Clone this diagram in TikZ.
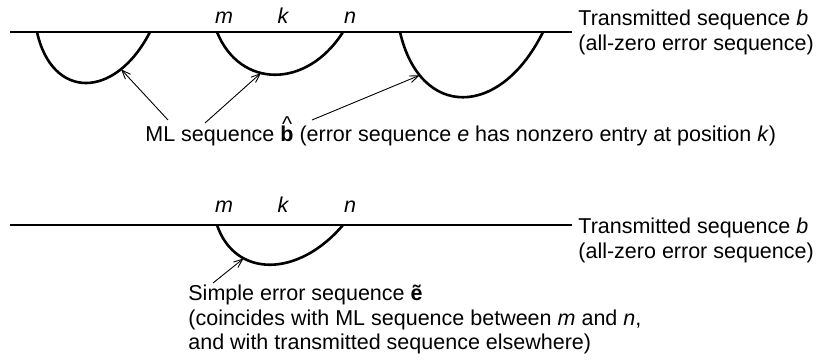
\documentclass[tikz,border=0pt]{standalone}
\usepackage{fontspec}
\setmainfont{Liberation Sans}
\usetikzlibrary{arrows.meta, positioning}

% b with a raised caret above it
\newcommand{\mlb}{\makebox[0pt][l]{\hspace{0.08em}\raisebox{0.5em}{\normalfont\^{}}}\textbf{b}}

\begin{document}
\begin{tikzpicture}[x=0.5pt, y=-0.5pt,
  every node/.style={font=\fontsize{10.75}{12.25}\selectfont, inner sep=0pt},
  seqline/.style={line width=0.6pt},
  errpath/.style={line width=1.3pt},
  ptr/.style={line width=0.45pt, -{Straight Barb[length=4.5pt, width=3.5pt]}},
  idx/.style={anchor=base, font=\fontsize{10.75}{12}\selectfont\itshape},
  lbl/.style={anchor=north west, align=left}]

  \useasboundingbox (0,0) rectangle (834,363);

  % Top: transmitted sequence with three ML detours
  \draw[seqline] (10,32) -- (572,32);
  \draw[errpath] (37,32) .. controls (52,100) and (115,100) .. (150,32)
    coordinate[pos=0.76] (hA);
  \draw[errpath] (217,32) .. controls (240,89) and (307,89) .. (343,32)
    coordinate[pos=0.4] (hB);
  \draw[errpath] (400,32) .. controls (420,119) and (500,119) .. (543,32)
    coordinate[pos=0.21] (hC);

  \node[idx] (m1) at (224,24) {m};
  \node[idx] (k1) at (283,24) {k};
  \node[idx] (n1) at (350,24) {n};

  \node[lbl] (tx1) at (578,10) {Transmitted sequence \textit{b}\\(all-zero error sequence)};

  \node[anchor=base west] (ml) at (145,142)
    {ML sequence \mlb\ (error sequence \textit{e} has nonzero entry at position \textit{k})};

  \coordinate (tA) at (168,120);
  \coordinate (tB) at (205,123);
  \coordinate (tC) at (312,120);
  \draw[ptr] (tA) -- (hA);
  \draw[ptr] (tB) -- (hB);
  \draw[ptr] (tC) -- (hC);

  % Bottom: the simple error sequence
  \draw[seqline] (10,225) -- (572,225);
  \draw[errpath] (217,225) .. controls (235,278) and (298,278) .. (343,225)
    coordinate[pos=0.3] (hD);

  \node[idx] (m2) at (224,213) {m};
  \node[idx] (k2) at (283,213) {k};
  \node[idx] (n2) at (350,213) {n};

  \node[lbl] (tx2) at (578,218) {Transmitted sequence \textit{b}\\(all-zero error sequence)};

  \node[lbl] (simple) at (188,285) {Simple error sequence \textbf{\~e}\\
    (coincides with ML sequence between \textit{m} and \textit{n},\\
    and with transmitted sequence elsewhere)};

  \coordinate (tD) at (213,283);
  \draw[ptr] (tD) -- (hD);

\end{tikzpicture}
\end{document}
